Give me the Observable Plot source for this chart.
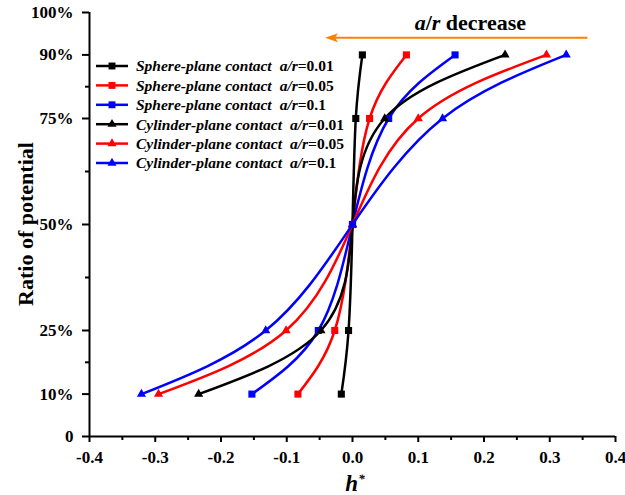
<!DOCTYPE html>
<html><head><meta charset="utf-8">
<script src="https://cdn.jsdelivr.net/npm/d3@7"></script>
<script src="https://cdn.jsdelivr.net/npm/@observablehq/plot@0.6"></script>
<style>
body{margin:0;background:#fff;}
#chart{width:625px;height:495px;}
</style>
</head><body><div id="chart"></div>
<script>
// ---- data ----
const ratio = [10, 25, 50, 75, 90];               // % ratio of potential
const sphere001   = [-0.017, -0.006, 0.0, 0.005, 0.015];
const sphere005   = [-0.083, -0.027, 0.0, 0.026, 0.082];
const sphere01    = [-0.153, -0.052, 0.0, 0.055, 0.156];
const cylinder001 = [-0.234, -0.048, 0.0, 0.049, 0.232];
const cylinder005 = [-0.295, -0.101, 0.0, 0.100, 0.295];
const cylinder01  = [-0.321, -0.132, 0.0, 0.137, 0.325];

const seriesNames = ["Sphere 0.01","Sphere 0.05","Sphere 0.1","Cylinder 0.01","Cylinder 0.05","Cylinder 0.1"];
const seriesKinds = ["Sphere","Sphere","Sphere","Cylinder","Cylinder","Cylinder"];
const seriesRatios = ["0.01","0.05","0.1","0.01","0.05","0.1"];
const seriesColors = ["#000000","#ff0000","#0000ff","#000000","#ff0000","#0000ff"];
const seriesValues = [sphere001, sphere005, sphere01, cylinder001, cylinder005, cylinder01];

const xTicks = [-0.4,-0.3,-0.2,-0.1,0,0.1,0.2,0.3,0.4];
const xMinor = [-0.35,-0.25,-0.15,-0.05,0.05,0.15,0.25,0.35];
const yTicks = [0,10,25,50,75,90,100];
const yTickLabels = ["0","10%","25%","50%","75%","90%","100%"];
const yMinor = [17.5,37.5,62.5,82.5];

const rows = [];
seriesNames.forEach((name, i) => {
  ratio.forEach((r, j) => rows.push({series: name, kind: seriesKinds[i], h: seriesValues[i][j], ratio: r}));
});

const FONT = "'Liberation Serif','Times New Roman',serif";

const plot = Plot.plot({
  width: 625, height: 495,
  marginLeft: 89, marginRight: 10, marginTop: 12, marginBottom: 59,
  style: {fontFamily: FONT, fontWeight: "bold", fontSize: "17px", color: "#000", background: "#fff", overflow: "visible"},
  x: {domain: [-0.4, 0.4]},
  y: {domain: [0, 100]},
  color: {domain: seriesNames, range: seriesColors},
  marks: [
    Plot.axisX({ticks: xTicks, tickFormat: d => d.toFixed(1), tickSize: 6, tickPadding: 8, strokeWidth: 2, label: null, fontSize: 17, fontWeight: "bold"}),
    Plot.axisX({ticks: xMinor, tickFormat: () => "", tickSize: 4, strokeWidth: 2, label: null}),
    Plot.axisY({ticks: yTicks, tickFormat: d => yTickLabels[yTicks.indexOf(d)], tickSize: 7, tickPadding: 9, strokeWidth: 2, label: null, fontSize: 17, fontWeight: "bold"}),
    Plot.axisY({ticks: yMinor, tickFormat: () => "", tickSize: 4, strokeWidth: 2, label: null}),
    Plot.ruleY([0], {strokeWidth: 2}),
    Plot.ruleX([-0.4], {strokeWidth: 2}),
    Plot.line(rows, {x: "h", y: "ratio", z: "series", stroke: "series", strokeWidth: 2.5, curve: "natural"}),
    Plot.dot(rows.filter(d => d.kind === "Sphere"), {x: "h", y: "ratio", fill: "series", symbol: "square", r: 4}),
    Plot.dot(rows.filter(d => d.kind === "Cylinder"), {x: "h", y: "ratio", fill: "series", symbol: "triangle", r: 3.4})
  ]
});
document.getElementById("chart").appendChild(plot);

// ---- annotations (legend, titles, arrow) ----
const svg = d3.select(plot);
const sx = plot.scale("x"), sy = plot.scale("y");

// y title
svg.append("text")
  .attr("transform", `translate(33,${(sy.apply(0)+sy.apply(100))/2}) rotate(-90)`)
  .attr("text-anchor", "middle")
  .style("font-family", FONT).style("font-weight", "bold").style("font-size", "22px")
  .attr("fill", "#000")
  .text("Ratio of potential");

// x title
const xt = svg.append("text")
  .attr("x", sx.apply(0) + 3).attr("y", 491)
  .attr("text-anchor", "middle")
  .style("font-family", FONT).style("font-weight", "bold").style("font-style", "italic").style("font-size", "23px")
  .attr("fill", "#000");
xt.append("tspan").text("h");
xt.append("tspan").attr("dy", "-0.6em").style("font-size", "13px").text("*");

// legend
const lg = svg.append("g").attr("transform", "translate(96,66)");
seriesNames.forEach((name, i) => {
  const g = lg.append("g").attr("transform", `translate(0,${i*19.4})`);
  g.append("line").attr("x1", 0).attr("x2", 32).attr("y1", 0).attr("y2", 0)
    .attr("stroke", seriesColors[i]).attr("stroke-width", 2.5);
  g.append("path").attr("transform", "translate(16,0)")
    .attr("d", d3.symbol(seriesKinds[i] === "Sphere" ? d3.symbolSquare : d3.symbolTriangle, seriesKinds[i] === "Sphere" ? 48 : 36)())
    .attr("fill", seriesColors[i]);
  const t = g.append("text").attr("x", 40).attr("y", 0).attr("dy", "0.35em")
    .attr("text-anchor", "start")
    .style("font-family", FONT).style("font-weight", "bold").style("font-size", "15.5px").attr("fill", "#000");
  t.append("tspan").style("font-style", "italic").text(seriesKinds[i] + "-plane contact");
  t.append("tspan").style("font-style", "italic").attr("dx", "8").text("a/r");
  t.append("tspan").text("=" + seriesRatios[i]);
});

// arrow annotation "a/r decrease"
const ay = sy.apply(93.9);
const ax1 = sx.apply(0.358), ax2 = sx.apply(-0.041);
svg.append("line").attr("x1", ax1).attr("x2", ax2 + 10).attr("y1", ay).attr("y2", ay)
  .attr("stroke", "#ff8000").attr("stroke-width", 2);
svg.append("path").attr("d", `M${ax2},${ay} L${ax2+13},${ay-4.5} L${ax2+10},${ay} L${ax2+13},${ay+4.5} Z`)
  .attr("fill", "#ff8000");
const at = svg.append("text").attr("x", sx.apply(0.18)).attr("y", 30)
  .attr("text-anchor", "middle")
  .style("font-family", FONT).style("font-weight", "bold").style("font-size", "22px").attr("fill", "#000");
at.append("tspan").style("font-style", "italic").text("a");
at.append("tspan").text("/");
at.append("tspan").style("font-style", "italic").text("r");
at.append("tspan").text(" decrease");
</script>
</body></html>
